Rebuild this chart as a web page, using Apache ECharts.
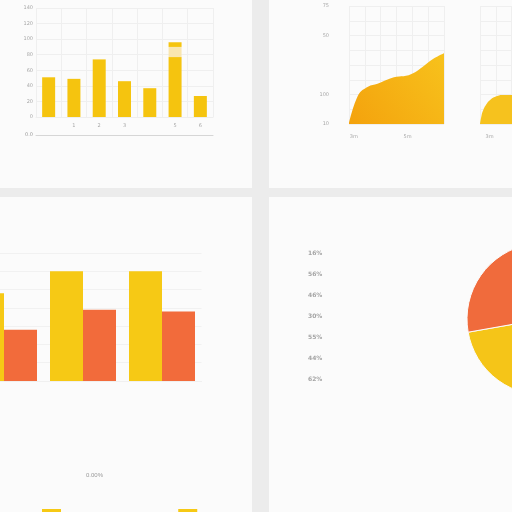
<!DOCTYPE html>
<html><head><meta charset="utf-8">
<script src="https://cdn.jsdelivr.net/npm/echarts@6/dist/echarts.min.js"></script>
<style>
html,body{margin:0;padding:0;background:#ececec;width:512px;height:512px;overflow:hidden}
.p{position:absolute;background:#fbfbfb}
#c{position:absolute;left:0;top:0;width:512px;height:512px}
</style></head><body>
<div class="p" style="left:0;top:0;width:252px;height:188px"></div>
<div class="p" style="left:269px;top:0;width:243px;height:188px"></div>
<div class="p" style="left:0;top:197px;width:252px;height:315px"></div>
<div class="p" style="left:269px;top:197px;width:243px;height:315px"></div>
<div id="c"></div>
<script>
// ---- top-left bar chart ----
const tlCategories = ['C1','C2','C3','C4','C5','C6','C7'];
const tlTickLabels = ['', '1', '2', '3', '', '5', '6'];
const tlBase = [51, 49, 74, 46, 37, 77, 27];
const tlPale = [0, 0, 0, 0, 0, 13, 0];
const tlTop  = [0, 0, 0, 0, 0, 6, 0];

// ---- top-right area charts ----
const trX = [0, 6, 12, 18, 24, 30, 36, 42, 48, 54, 60];
const trY = [1, 30, 38, 41, 45, 48, 49, 53, 60, 67, 72];
const tr2X = [0, 1, 2, 4, 6, 10, 15, 20, 30, 40];
const tr2Y = [0, 9, 14, 20, 24, 28, 29.5, 29.5, 29.5, 29.5];
const trYTickValues = [0, 30, 90, 120];
const trYTickLabels = ['10', '100', '50', '75'];
const trXTickValues = [3, 37];
const trXTickLabels = ['3m', '5m'];
const tr2XTickValues = [6];
const tr2XTickLabels = ['3m'];

// ---- bottom-left grouped bars ----
const blCategories = ['Q1', 'Q2', 'Q3'];
const blYellow = [48, 60, 60];
const blOrange = [28, 39, 38];
const blSeriesNames = ['1.0%', '2.0%'];

// ---- bottom-right pie ----
const pieNames = ['16%', '56%', '46%', '30%', '55%', '44%', '62%'];
const pieValues = [30, 35, 30, 35, 30, 100, 100];
const pieColors = ['#f7b733', '#f59b2f', '#f7d04a', '#f08a3c', '#f9dc6a', '#f5c518', '#f06b3c'];

const lbl = {fontSize: 5, color: '#a8a8a8', fontFamily: 'DejaVu Sans'};
const split = {show: true, lineStyle: {color: '#efefef', width: 1}};
const trGrad = new echarts.graphic.LinearGradient(0, 1, 1, 0, [
  {offset: 0, color: '#f4a20d'}, {offset: 1, color: '#f7c21c'}]);

const chart = echarts.init(document.getElementById('c'), null, {renderer: 'canvas'});
chart.setOption({
  backgroundColor: 'transparent',
  animation: false,
  textStyle: {fontFamily: 'DejaVu Sans'},
  grid: [
    {left: 36, width: 177, top: 8, height: 109, outerBoundsMode: 'none'},
    {left: 349, width: 95, top: 6, height: 118, outerBoundsMode: 'none'},
    {left: 480, width: 95, top: 6, height: 118, outerBoundsMode: 'none'},
    {left: -35.5, width: 237, top: 253, height: 128, outerBoundsMode: 'none'}
  ],
  xAxis: [
    {gridIndex: 0, type: 'category', data: tlCategories,
     axisLine: {lineStyle: {color: '#eeeeee'}}, axisTick: {show: false},
     splitLine: split,
     axisLabel: Object.assign({}, lbl, {interval: 0, margin: 6, formatter: (v, i) => tlTickLabels[i]})},
    {gridIndex: 0, type: 'category', data: tlCategories, position: 'bottom', offset: 18,
     axisLine: {show: true, lineStyle: {color: '#d6d6d6'}}, axisTick: {show: false},
     axisLabel: {show: false}, name: '0.0', nameLocation: 'start', nameGap: 3,
     nameTextStyle: {fontSize: 5, color: '#999'}},
    {gridIndex: 1, type: 'value', min: 0, max: 60, interval: 10,
     axisLine: {show: false}, axisTick: {show: false}, splitLine: split,
     axisLabel: Object.assign({}, lbl, {margin: 10, customValues: trXTickValues,
       formatter: v => trXTickLabels[trXTickValues.indexOf(v)] ?? ''})},
    {gridIndex: 2, type: 'value', min: 0, max: 60, interval: 10,
     axisLine: {show: false}, axisTick: {show: false}, splitLine: split,
     axisLabel: Object.assign({}, lbl, {margin: 10, customValues: tr2XTickValues,
       formatter: v => tr2XTickLabels[tr2XTickValues.indexOf(v)] ?? ''})},
    {gridIndex: 3, type: 'category', data: blCategories,
     axisLine: {lineStyle: {color: '#f0f0f0'}}, axisTick: {show: false},
     axisLabel: {show: false}}
  ],
  yAxis: [
    {gridIndex: 0, type: 'value', min: 0, max: 140, interval: 20,
     axisLine: {show: false}, axisTick: {show: false}, splitLine: split,
     axisLabel: Object.assign({}, lbl, {margin: 3})},
    {gridIndex: 1, type: 'value', min: 0, max: 120, interval: 15,
     axisLine: {show: false}, axisTick: {show: false}, splitLine: split,
     axisLabel: Object.assign({}, lbl, {margin: 20, customValues: trYTickValues,
       formatter: v => trYTickLabels[trYTickValues.indexOf(v)] ?? ''})},
    {gridIndex: 2, type: 'value', min: 0, max: 120, interval: 15,
     axisLine: {show: false}, axisTick: {show: false}, splitLine: split,
     axisLabel: {show: false}},
    {gridIndex: 3, type: 'value', min: 0, max: 70, interval: 10,
     axisLine: {show: false}, axisTick: {show: false},
     splitLine: {show: true, lineStyle: {color: '#f1f1f1'}}, axisLabel: {show: false}}
  ],
  legend: [
    {orient: 'vertical', left: 298, top: 244, icon: 'none', itemWidth: 0, itemHeight: 8,
     itemGap: 14, data: pieNames, selectedMode: false,
     textStyle: {fontSize: 6, color: '#a4a4a4', fontWeight: 'bold'}},
    {orient: 'horizontal', left: 37, top: 504, itemWidth: 19, itemHeight: 14, itemGap: 73,
     selectedMode: false, icon: 'rect',
     data: [
       {name: blSeriesNames[0]},
       {name: blSeriesNames[1], itemStyle: {color: '#f6c915'}, textStyle: {color: 'rgba(0,0,0,0)'}}
     ],
     textStyle: {fontSize: 6, color: '#999', padding: [0, 0, 0, 24]}}
  ],
  graphic: [
    {type: 'text', left: 86, top: 472, style: {text: '0.00%', fontSize: 6, fill: '#999'}}
  ],
  series: [
    {type: 'bar', xAxisIndex: 0, yAxisIndex: 0, stack: 'tl', data: tlBase, barWidth: 13,
     itemStyle: {color: '#f5c40f'}},
    {type: 'bar', xAxisIndex: 0, yAxisIndex: 0, stack: 'tl', data: tlPale, barWidth: 13,
     itemStyle: {color: '#f9e6b0'}},
    {type: 'bar', xAxisIndex: 0, yAxisIndex: 0, stack: 'tl', data: tlTop, barWidth: 13,
     itemStyle: {color: '#f5c40f'}},
    {type: 'line', xAxisIndex: 2, yAxisIndex: 1, data: trX.map((x, i) => [x, trY[i]]),
     smooth: 0.4, symbol: 'none', lineStyle: {width: 0}, areaStyle: {color: trGrad, opacity: 1}},
    {type: 'line', xAxisIndex: 3, yAxisIndex: 2, data: tr2X.map((x, i) => [x, tr2Y[i]]),
     smooth: 0.5, symbol: 'none', lineStyle: {width: 0}, areaStyle: {color: '#f6c21e', opacity: 1}},
    {type: 'bar', name: blSeriesNames[0], xAxisIndex: 4, yAxisIndex: 3, data: blYellow,
     barWidth: 33, barGap: '0%', itemStyle: {color: '#f6c915'}},
    {type: 'bar', name: blSeriesNames[1], xAxisIndex: 4, yAxisIndex: 3, data: blOrange,
     barWidth: 33, barGap: '0%', itemStyle: {color: '#f26b3b'}},
    {type: 'pie', center: [543, 319], radius: 76, startAngle: 90, clockwise: true,
     label: {show: false}, labelLine: {show: false},
     itemStyle: {borderColor: '#fbfbfb', borderWidth: 1},
     data: pieNames.map((n, i) => ({name: n, value: pieValues[i], itemStyle: {color: pieColors[i]}}))}
  ]
});
</script></body></html>
